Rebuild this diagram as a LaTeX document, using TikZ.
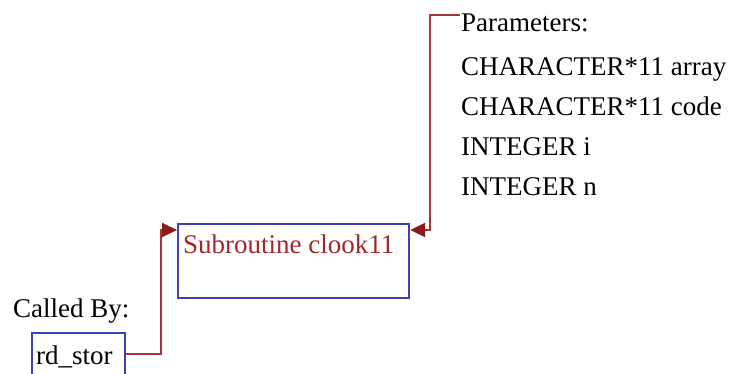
\documentclass[tikz,border=0pt]{standalone}
\usepackage{fontspec}
\setmainfont{Liberation Serif}
\usetikzlibrary{arrows.meta}
\definecolor{boxblue}{RGB}{64,64,176}
\definecolor{linkred}{RGB}{168,52,52}
\definecolor{tipred}{RGB}{139,26,26}
\definecolor{namered}{RGB}{160,40,40}
\begin{document}
\begin{tikzpicture}
[
	x=1pt,
	y=-1pt,
	txt/.style={inner sep=0pt,anchor=base west,font=\fontsize{27}{32}\selectfont},
	routine/.style={draw=boxblue,line width=2.2pt,inner sep=0pt,anchor=north west},
	link/.style={draw=linkred,line width=2.2pt,-{Triangle[length=15pt,width=14pt,color=tipred]}}
]
	\useasboundingbox (0,0) rectangle (734,373);
	\clip (0,0) rectangle (734,373);

	% subroutine box
	\node[routine,minimum width=231pt,minimum height=74pt] at (177,223) (sub) {};
	\node[txt,text=namered] at (183,253) (subname) {Subroutine clook11};

	% parameters
	\node[txt] at (461,31) (params) {Parameters:};
	\node[txt] at (461,75) (par1) {CHARACTER*11 array};
	\node[txt] at (461,115) (par2) {CHARACTER*11 code};
	\node[txt] at (461,155) (par3) {INTEGER i};
	\node[txt] at (461,195) (par4) {INTEGER n};
	\coordinate (pin) at (460,15);

	% caller
	\node[txt] at (13,317) (calledby) {Called By:};
	\node[routine,minimum width=93pt,minimum height=60pt] at (31,332) (caller) {};
	\node[txt] at (36,364) (callername) {rd\_stor};

	% links
	\draw[link] (pin) -| ([xshift=20pt,yshift=-7pt]sub.north east) -- ([yshift=-7pt]sub.north east);
	\draw[link] ([yshift=-22pt]caller.north east) -| ([xshift=-16pt,yshift=-7pt]sub.north west) -- ([yshift=-7pt]sub.north west);

\end{tikzpicture}
\end{document}
